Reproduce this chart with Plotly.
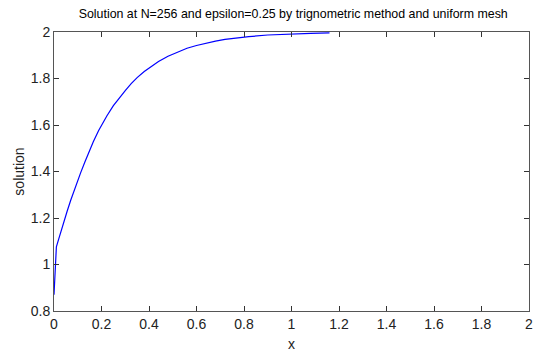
import plotly.graph_objects as go

# Numerical solution sampled along x (uniform mesh, N=256, epsilon=0.25)
x_vals = [0.0, 0.003, 0.006, 0.010, 0.020, 0.035, 0.055, 0.070, 0.084, 0.098,
          0.112, 0.130, 0.146, 0.165, 0.188, 0.205, 0.223, 0.25, 0.275, 0.30,
          0.325, 0.35, 0.38, 0.411, 0.44, 0.48, 0.523, 0.56, 0.60, 0.635,
          0.68, 0.72, 0.76, 0.82, 0.90, 1.00, 1.08, 1.16]
solution = [0.87, 0.93, 1.00, 1.076, 1.110, 1.163, 1.228, 1.275, 1.316, 1.356,
            1.394, 1.441, 1.482, 1.527, 1.576, 1.609, 1.640, 1.683, 1.717, 1.748,
            1.778, 1.804, 1.830, 1.854, 1.873, 1.896, 1.916, 1.930, 1.942, 1.951,
            1.961, 1.968, 1.974, 1.980, 1.987, 1.992, 1.9945, 1.996]

x_ticks = [0, 0.2, 0.4, 0.6, 0.8, 1, 1.2, 1.4, 1.6, 1.8, 2]
x_tick_text = ["0", "0.2", "0.4", "0.6", "0.8", "1", "1.2", "1.4", "1.6", "1.8", "2"]
y_ticks = [0.8, 1, 1.2, 1.4, 1.6, 1.8, 2]
y_tick_text = ["0.8", "1", "1.2", "1.4", "1.6", "1.8", "2"]

FONT = "Liberation Sans, Arial, sans-serif"

fig = go.Figure()
fig.add_trace(go.Scatter(x=x_vals, y=solution, mode="lines",
                         line=dict(color="#0000ff", width=1.2),
                         showlegend=False, hoverinfo="skip"))

axis_common = dict(showgrid=False, zeroline=False, showline=True,
                   linecolor="#555555", linewidth=1, mirror="ticks",
                   ticks="inside", ticklen=5, tickcolor="#333333",
                   tickfont=dict(family=FONT, size=14, color="#222222"))

fig.update_layout(
    width=538, height=360,
    margin=dict(l=54, r=5, t=32, b=49),
    paper_bgcolor="white", plot_bgcolor="white",
    title=dict(text="Solution at N=256 and epsilon=0.25 by trignometric method and uniform mesh",
               x=0.545, xanchor="center", y=0.962, yanchor="middle",
               font=dict(family=FONT, size=12.4, color="#000000")),
    xaxis=dict(range=[0, 2], tickvals=x_ticks, ticktext=x_tick_text,
               title=dict(text="x", standoff=8,
                          font=dict(family=FONT, size=14, color="#222222")),
               **axis_common),
    yaxis=dict(range=[0.8, 2], tickvals=y_ticks, ticktext=y_tick_text,
               title=dict(text="solution", standoff=2,
                          font=dict(family=FONT, size=14, color="#222222")),
               **axis_common),
)

fig.write_html("out.html")
